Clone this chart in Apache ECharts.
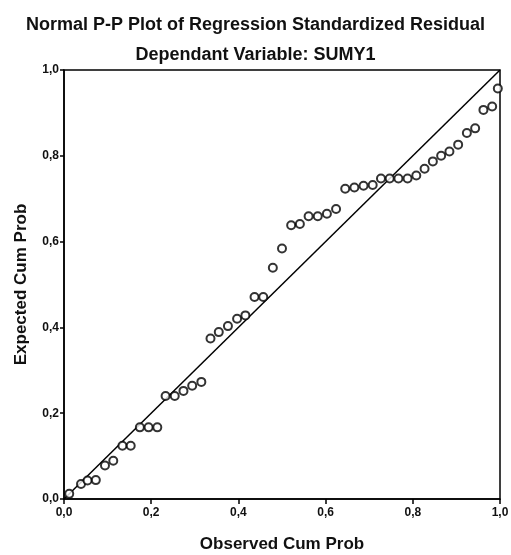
<!DOCTYPE html>
<html>
<head>
<meta charset="utf-8">
<script src="https://cdn.jsdelivr.net/npm/echarts@6/dist/echarts.min.js"></script>
<style>
	html, body { margin: 0; padding: 0; background: #fff; }
	#chart { width: 511px; height: 555px; }
</style>
</head>
<body>
<div id="chart"></div>
<script>
// observed cum prob (x) and expected cum prob (y)
var observedCumProb = [0.012, 0.039, 0.054, 0.073, 0.094, 0.113, 0.134, 0.153, 0.174, 0.194,
	0.214, 0.233, 0.254, 0.274, 0.294, 0.315, 0.336, 0.355, 0.376, 0.397,
	0.416, 0.437, 0.457, 0.479, 0.500, 0.521, 0.541, 0.561, 0.582, 0.603,
	0.624, 0.645, 0.666, 0.687, 0.708, 0.727, 0.747, 0.767, 0.788, 0.808,
	0.827, 0.846, 0.865, 0.884, 0.904, 0.924, 0.943, 0.962, 0.982, 0.995];
var expectedCumProb = [0.012, 0.035, 0.043, 0.044, 0.078, 0.089, 0.124, 0.124, 0.167, 0.167,
	0.167, 0.240, 0.240, 0.252, 0.264, 0.273, 0.374, 0.389, 0.403, 0.420,
	0.428, 0.471, 0.471, 0.539, 0.584, 0.638, 0.641, 0.659, 0.659, 0.665,
	0.676, 0.723, 0.726, 0.730, 0.732, 0.747, 0.747, 0.747, 0.747, 0.754,
	0.770, 0.787, 0.800, 0.810, 0.826, 0.853, 0.864, 0.907, 0.915, 0.957];
var refLine = [[0, 0], [1, 1]];

var points = [];
for (var i = 0; i < observedCumProb.length; i++) {
	points.push([observedCumProb[i], expectedCumProb[i]]);
}

function commaLabel(v) {
	return v.toFixed(1).replace('.', ',');
}

var chart = echarts.init(document.getElementById('chart'));
var option = {
	animation: false,
	textStyle: { fontFamily: 'Liberation Sans, Arial, sans-serif' },
	title: [{
		text: 'Normal P-P Plot of Regression Standardized Residual',
		left: 'center',
		top: 11,
		textStyle: { fontSize: 18, fontWeight: 'bold', color: '#111' }
	}, {
		text: 'Dependant Variable: SUMY1',
		left: 'center',
		top: 41,
		textStyle: { fontSize: 18, fontWeight: 'bold', color: '#111' }
	}],
	grid: {
		left: 64,
		right: 11,
		top: 70,
		bottom: 56,
		outerBoundsMode: 'none',
		show: true,
		borderColor: '#000',
		borderWidth: 1.5
	},
	xAxis: {
		type: 'value',
		min: 0,
		max: 1,
		interval: 0.2,
		name: 'Observed Cum Prob',
		nameLocation: 'middle',
		nameGap: 37,
		nameTextStyle: { fontSize: 17, fontWeight: 'bold', color: '#111' },
		axisLine: { lineStyle: { color: '#000', width: 1.5 } },
		axisTick: { length: 5, lineStyle: { color: '#000', width: 1.5 } },
		axisLabel: { formatter: commaLabel, fontSize: 12, fontWeight: 'bold', color: '#111', margin: 8 },
		splitLine: { show: false }
	},
	yAxis: {
		type: 'value',
		min: 0,
		max: 1,
		interval: 0.2,
		name: 'Expected Cum Prob',
		nameLocation: 'middle',
		nameGap: 34,
		nameTextStyle: { fontSize: 17, fontWeight: 'bold', color: '#111' },
		axisLine: { lineStyle: { color: '#000', width: 1.5 } },
		axisTick: { length: 4, lineStyle: { color: '#000', width: 1.5 } },
		axisLabel: { formatter: commaLabel, fontSize: 12, fontWeight: 'bold', color: '#111', margin: 5 },
		splitLine: { show: false }
	},
	series: [{
		type: 'line',
		data: refLine,
		symbol: 'none',
		lineStyle: { color: '#000', width: 1.5 },
		z: 1
	}, {
		type: 'scatter',
		data: points,
		symbol: 'emptyCircle',
		symbolSize: 8,
		itemStyle: { color: '#000', borderColor: '#000', borderWidth: 1.8 },
		z: 2
	}]
};
chart.setOption(option);
</script>
</body>
</html>
